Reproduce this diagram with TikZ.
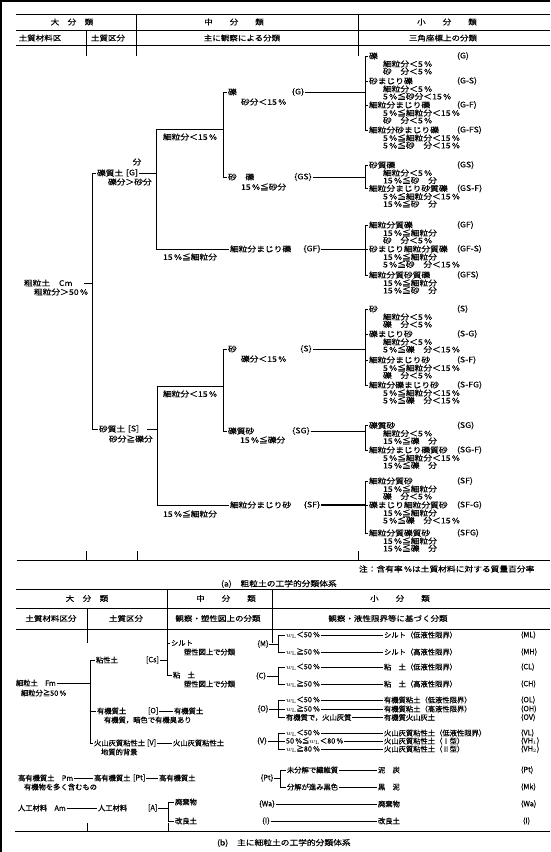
\documentclass[tikz,border=0pt]{standalone}
\usepackage{fontspec}
\newfontfamily\jpa[FakeStretch=1.15,FakeBold=0.3]{Noto Sans CJK JP}
\newfontfamily\jpb[FakeBold=0.3]{Noto Sans CJK JP}
\tikzset{
 ta/.style={font=\jpa\fontsize{7.6}{8}\selectfont, inner sep=0.8pt, anchor=west},
 tac/.style={ta, anchor=center},
 hd/.style={font=\jpa\fontsize{7.4}{8}\selectfont, inner sep=0.8pt, anchor=center},
 tb/.style={font=\jpb\fontsize{7.3}{8}\selectfont, inner sep=0.8pt, anchor=west},
 tbc/.style={tb, anchor=center},
 ln/.style={line width=0.6pt},
 rul/.style={line width=1pt},
}
\newcommand\entA[6]{%
 \node[ta] (#1t) at (368,#2) {#3};
 \node[ta] (#1k) at (456,#2) {#4};
 \node[ta] (#1a) at (382,#2+8) {#5};
 \node[ta] (#1b) at (382,#2+15.5) {#6};
 \coordinate (#1s) at (365,#2);
 \draw[ln] (#1s) -- (#1t.west);
}
\newcommand\rowB[6]{% id y cond result code bracketx
 \coordinate (#1s) at (#6,#2);
 \node[tb] (#1c) at (#6+7,#2) {#3};
 \draw[ln] (#1s) -- (#1c.west);
 \node[tb] (#1r) at (383,#2) {#4};
 \draw[ln] (#1c.east) -- (#1r.west);
 \node[tb] (#1k) at (520,#2) {#5};
}
\begin{document}
\begin{tikzpicture}[x=1pt,y=-1pt]
\useasboundingbox (0,0) rectangle (550,852);
\fill[white] (0,0) rectangle (550,852);
\draw[line width=2pt] (1,852) -- (1,1) -- (550,1);

% ================= (a) header =================
\draw[rul] (16,14.5) -- (550,14.5);
\draw[rul] (16,30) -- (550,30);
\draw[rul] (16,45.5) -- (550,45.5);
\draw[ln] (86,30) -- (86,56);
\draw[ln] (136,14.5) -- (136,56);
\draw[ln] (358,14.5) -- (358,56);
\node[hd] (ha1) at (72,22) {大　分　類};
\node[hd] (ha2) at (234,22) {中　　分　　類};
\node[hd] (ha3) at (447,22) {小　　分　　類};
\node[hd] (hb1) at (40,38) {土質材料区};
\node[hd] (hb2) at (108,38) {土質区分};
\node[hd] (hb3) at (242,38) {主に観察による分類};
\node[hd] (hb4) at (443,38) {三角座標上の分類};

% ================= (a) tree =================
\node[ta] (Cm) at (23,283) {粗粒土　Cm};
\node[ta] (Cmc) at (33,292) {粗粒分＞50\,\%};
\coordinate (Cmd) at (84,283);
\coordinate (Cmj) at (92,283);
\draw[ln] (Cmd) -- (Cmj);
\coordinate (V1t) at (92,173);
\coordinate (V1b) at (92,429);
\draw[ln] (V1t) -- (V1b);

% gravel soil
\node[ta] (Gq) at (96,173) {礫質土};
\node[ta] (Gb) at (125,173) {[G]};
\draw[ln] (V1t) -- (Gq.west);
\node[tac] (Gfen) at (137,162) {分};
\node[ta] (Gc) at (107,182) {礫分＞砂分};
\coordinate (gv1) at (156,129);
\coordinate (gv2) at (156,249);
\coordinate (gvm) at (156,173);
\draw[ln] (gv1) -- (gv2);
\draw[ln] (Gb.east) -- (gvm);
\coordinate (gw1) at (223,92);
\coordinate (gw2) at (223,177);
\coordinate (gwm) at (223,129);
\draw[ln] (gv1) -- (gwm);
\draw[ln] (gw1) -- (gw2);
\node[ta] (Gf1) at (162,137) {細粒分＜15\,\%};
\node[ta] (Gr) at (227,92) {礫};
\draw[ln] (gw1) -- (Gr.west);
\node[ta] (Grc) at (240,102) {砂分＜15\,\%};
\node[tac] (GrK) at (298,92) {\{G\}};
\node[ta] (GSr) at (227,177) {砂　礫};
\draw[ln] (gw2) -- (GSr.west);
\node[ta] (GSc) at (240,187) {15\,\%≦砂分};
\node[tac] (GSK) at (303,177) {\{GS\}};
\node[ta] (GFr) at (229,249) {細粒分まじり礫};
\draw[ln] (gv2) -- (GFr.west);
\node[ta] (GFc) at (162,257) {15\,\%≦細粒分};
\node[tac] (GFK) at (312,249) {\{GF\}};

% sandy soil
\node[ta] (Sq) at (98,429) {砂質土};
\node[ta] (Sb) at (127,429) {[S]};
\draw[ln] (V1b) -- (Sq.west);
\node[ta] (Sc) at (108,439) {砂分≧礫分};
\coordinate (sv1) at (157,386);
\coordinate (sv2) at (157,505);
\coordinate (svm) at (157,429);
\coordinate (Sd) at (147,429);
\draw[ln] (sv1) -- (sv2);
\draw[ln] (Sd) -- (svm);
\coordinate (sw1) at (223,349);
\coordinate (sw2) at (223,431);
\coordinate (swm) at (223,386);
\draw[ln] (sv1) -- (swm);
\draw[ln] (sw1) -- (sw2);
\node[ta] (Sf1) at (162,394) {細粒分＜15\,\%};
\node[ta] (Ssr) at (227,349) {砂};
\draw[ln] (sw1) -- (Ssr.west);
\node[ta] (Ssc) at (240,359) {礫分＜15\,\%};
\node[tac] (SsK) at (306,349) {\{S\}};
\node[ta] (SGr) at (227,431) {礫質砂};
\draw[ln] (sw2) -- (SGr.west);
\node[ta] (SGc) at (239,440) {15\,\%≦礫分};
\node[tac] (SGK) at (301,431) {\{SG\}};
\node[ta] (SFr) at (229,505) {細粒分まじり砂};
\draw[ln] (sv2) -- (SFr.west);
\node[ta] (SFc) at (162,514) {15\,\%≦細粒分};
\node[tac] (SFK) at (312,505) {\{SF\}};

% ---- small classification (a)
\entA{g1}{56}{礫}{(G)}{細粒分＜5\,\%}{砂　分＜5\,\%}
\entA{g2}{81}{砂まじり礫}{(G-S)}{細粒分＜5\,\%}{5\,\%≦砂分＜15\,\%}
\entA{g3}{105}{細粒分まじり礫}{(G-F)}{5\,\%≦細粒分＜15\,\%}{砂　分＜5\,\%}
\entA{g4}{130}{細粒分砂まじり礫}{(G-FS)}{5\,\%≦細粒分＜15\,\%}{5\,\%≦砂　分＜15\,\%}
\draw[ln] (g1s) -- (g4s);
\entA{gsa}{165}{砂質礫}{(GS)}{細粒分＜5\,\%}{15\,\%≦砂　分}
\entA{gsb}{188.5}{細粒分まじり砂質礫}{(GS-F)}{5\,\%≦細粒分＜15\,\%}{15\,\%≦砂　分}
\draw[ln] (gsas) -- (gsbs);
\entA{gfa}{225}{細粒分質礫}{(GF)}{15\,\%≦細粒分}{砂　分＜5\,\%}
\entA{gfb}{249}{砂まじり細粒分質礫}{(GF-S)}{15\,\%≦細粒分}{5\,\%≦砂　分＜15\,\%}
\entA{gfc}{275}{細粒分質砂質礫}{(GFS)}{15\,\%≦細粒分}{15\,\%≦砂　分}
\draw[ln] (gfas) -- (gfcs);
\entA{s1}{309}{砂}{(S)}{細粒分＜5\,\%}{礫　分＜5\,\%}
\entA{s2}{334}{礫まじり砂}{(S-G)}{細粒分＜5\,\%}{5\,\%≦礫　分＜15\,\%}
\entA{s3}{360}{細粒分まじり砂}{(S-F)}{5\,\%≦細粒分＜15\,\%}{礫　分＜5\,\%}
\entA{s4}{385}{細粒分礫まじり砂}{(S-FG)}{5\,\%≦細粒分＜15\,\%}{5\,\%≦礫　分＜15\,\%}
\draw[ln] (s1s) -- (s4s);
\entA{sga}{425.5}{礫質砂}{(SG)}{細粒分＜5\,\%}{15\,\%≦礫　分}
\entA{sgb}{450}{細粒分まじり礫質砂}{(SG-F)}{5\,\%≦細粒分＜15\,\%}{15\,\%≦礫　分}
\draw[ln] (sgas) -- (sgbs);
\entA{sfa}{481}{細粒分質砂}{(SF)}{15\,\%≦細粒分}{礫　分＜5\,\%}
\entA{sfb}{505}{礫まじり細粒分質砂}{(SF-G)}{15\,\%≦細粒分}{5\,\%≦礫　分＜15\,\%}
\entA{sfc}{533}{細粒分質礫質砂}{(SFG)}{15\,\%≦細粒分}{15\,\%≦礫　分}
\draw[ln] (sfas) -- (sfcs);

% middle to small connectors
\coordinate (bG) at (365,92);
\coordinate (bGS) at (365,177);
\coordinate (bS) at (365,349);
\coordinate (bSG) at (365,431);
\draw[ln] (GrK.east) -- (bG);
\draw[ln] (GSK.east) -- (bGS);
\draw[ln] (GFK.east) -- (gfbs);
\draw[ln] (SsK.east) -- (bS);
\draw[ln] (SGK.east) -- (bSG);
\draw[line width=1.1pt] (SFK.east) -- (sfbs);

% bottom of (a)
\draw[rul] (17,560.5) -- (550,560.5);
\draw[ln] (86,551) -- (86,560.5);
\draw[ln] (137,551) -- (137,560.5);
\draw[ln] (358,551) -- (358,560.5);
\node[ta] (note) at (358,569) {注：含有率\,\%は土質材料に対する質量百分率};
\node[ta] (capa) at (220,584) {(a)　粗粒土の工学的分類体系};

% ================= (b) header =================
\draw[rul] (16,589) -- (550,589);
\draw[rul] (16,608) -- (550,608);
\draw[rul] (16,629) -- (550,629);
\draw[ln] (87,608) -- (87,643);
\draw[ln] (167,589) -- (167,643);
\draw[ln] (272,589) -- (272,643);
\node[hd] (hc1) at (87,598.5) {大　分　類};
\node[hd] (hc2) at (226,598.5) {中　　分　　類};
\node[hd] (hc3) at (400,598.5) {小　　分　　類};
\node[hd] (hd1) at (51,618.5) {土質材料区分};
\node[hd] (hd2) at (126,618.5) {土質区分};
\node[hd] (hd3) at (218,618.5) {観察・塑性図上の分類};
\node[hd] (hd4) at (388,618.5) {観察・液性限界等に基づく分類};

% ================= (b) body =================
\node[tb] (Fm) at (15,683) {細粒土　Fm};
\node[tb] (Fmc) at (20,693) {細粒分≧50\,\%};
\coordinate (bv1) at (90,660);
\coordinate (bv2) at (90,743);
\coordinate (bvm) at (90,683);
\coordinate (bvO) at (90,711);
\draw[ln] (Fm.east) -- (bvm);
\draw[ln] (bv1) -- (bv2);
\node[tb] (Cs) at (95,660) {粘性土};
\draw[ln] (bv1) -- (Cs.west);
\node[tb] (Csb) at (145,660) {[Cs]};
\coordinate (cb1) at (167,643);
\coordinate (cb2) at (167,675);
\coordinate (cbm) at (167,660);
\draw[ln] (cb1) -- (cb2);
\draw[ln] (Csb.east) -- (cbm);
\node[tb] (Mt) at (170,643) {シルト};
\draw[ln] (cb1) -- (Mt.west);
\node[tb] (Mtc) at (183,652) {塑性図上で分類};
\node[tb] (Ct) at (172,675) {粘　土};
\draw[ln] (cb2) -- (Ct.west);
\node[tb] (Ctc) at (183,684) {塑性図上で分類};
\node[tb] (Oq) at (96,711) {有機質土};
\draw[ln] (bvO) -- (Oq.west);
\node[tb] (Ob) at (147,711) {[O]};
\node[tb] (Om) at (173,711) {有機質土};
\draw[ln] (Ob.east) -- (Om.west);
\node[tb] (Omc) at (103,720) {有機質，暗色で有機臭あり};
\node[tb] (Vq) at (93,743) {火山灰質粘性土};
\draw[ln] (bv2) -- (Vq.west);
\node[tb] (Vb) at (146,743) {[V]};
\node[tb] (Vm) at (172,743) {火山灰質粘性土};
\draw[ln] (Vb.east) -- (Vm.west);
\node[tb] (Vmc) at (100,752) {地質的背景};
\node[tb] (Pm) at (17,778) {高有機質土　Pm};
\node[tb] (Pq) at (93,778) {高有機質土};
\draw[ln] (Pm.east) -- (Pq.west);
\node[tb] (Pb) at (132,778) {[Pt]};
\node[tb] (Pmm) at (158,778) {高有機質土};
\draw[ln] (Pb.east) -- (Pmm.west);
\node[tb] (Pmc) at (23,787) {有機物を多く含むもの};
\node[tb] (Am) at (17,808) {人工材料　Am};
\node[tb] (Aq) at (97,808) {人工材料};
\draw[ln] (Am.east) -- (Aq.west);
\node[tb] (Ab) at (147,808) {[A]};
\coordinate (ab1) at (168,802);
\coordinate (ab2) at (168,821);
\coordinate (abm) at (168,808);
\draw[ln] (Ab.east) -- (abm);
\draw[ln] (ab1) -- (ab2);
\node[tb] (Wam) at (174,802) {廃棄物};
\draw[ln] (ab1) -- (Wam.west);
\node[tb] (Im) at (174,821) {改良土};
\draw[ln] (ab2) -- (Im.west);

% middle-column codes
\node[tbc] (kM) at (263,644) {\{M\}};
\node[tbc] (kC) at (261,676) {\{C\}};
\node[tbc] (kO) at (263,709) {\{O\}};
\node[tbc] (kV) at (262,741) {\{V\}};
\node[tbc] (kPt) at (267,778) {\{Pt\}};
\node[tbc] (kWa) at (267,804) {\{Wa\}};
\node[tbc] (kI) at (266,821) {\{I\}};

% small classification (b)
\rowB{ml}{635}{$w_{\mathrm L}$＜50\,\%}{シルト（低液性限界）}{(ML)}{278}
\rowB{mh}{652}{$w_{\mathrm L}$≧50\,\%}{シルト（高液性限界）}{(MH)}{278}
\rowB{cl}{667}{$w_{\mathrm L}$＜50\,\%}{粘　土（低液性限界）}{(CL)}{278}
\rowB{ch}{684}{$w_{\mathrm L}$≧50\,\%}{粘　土（高液性限界）}{(CH)}{278}
\rowB{ol}{700}{$w_{\mathrm L}$＜50\,\%}{有機質粘土（低液性限界）}{(OL)}{278}
\rowB{oh}{709}{$w_{\mathrm L}$≧50\,\%}{有機質粘土（高液性限界）}{(OH)}{278}
\rowB{ov}{717.5}{有機質で，火山灰質}{有機質火山灰土}{(OV)}{278}
\rowB{vl}{733}{$w_{\mathrm L}$＜50\,\%}{火山灰質粘性土（低液性限界）}{(VL)}{278}
\rowB{vh}{741}{50\,\%≦$w_{\mathrm L}$＜80\,\%}{火山灰質粘性土（Ⅰ型）}{(VH$_1$)}{278}
\rowB{vk}{749}{$w_{\mathrm L}$≧80\,\%}{火山灰質粘性土（Ⅱ型）}{(VH$_2$)}{278}
\node[tb] (ptc) at (286,770) {未分解で繊維質};
\node[tb] (ptr) at (377,770) {泥　炭};
\node[tb] (ptk) at (520,770) {(Pt)};
\node[tb] (mkc) at (286,787) {分解が進み黒色};
\node[tb] (mkr) at (377,787) {黒　泥};
\node[tb] (mkk) at (520,787) {(Mk)};
\node[tb] (war) at (377,804) {廃棄物};
\node[tb] (wak) at (520,804) {(Wa)};
\node[tb] (ir) at (377,821) {改良土};
\node[tb] (ik) at (522,821) {(I)};
\coordinate (ptb1) at (280,770);
\coordinate (ptb2) at (280,787);
\coordinate (ptbm) at (280,778);
\draw[ln] (ptb1) -- (ptb2);
\draw[ln] (ptb1) -- (ptc.west);
\draw[ln] (ptb2) -- (mkc.west);
\draw[ln] (ptc.east) -- (ptr.west);
\draw[ln] (mkc.east) -- (mkr.west);
\draw[ln] (kPt.east) -- (ptbm);
\draw[ln] (kWa.east) -- (war.west);
\draw[ln] (kI.east) -- (ir.west);

% brackets
\coordinate (kMb) at (278,644);
\coordinate (kCb) at (278,676);
\draw[ln] (mls) -- (mhs);
\draw[ln] (kM.east) -- (kMb);
\draw[ln] (cls) -- (chs);
\draw[ln] (kC.east) -- (kCb);
\draw[ln] (ols) -- (ovs);
\draw[ln] (kO.east) -- (ohs);
\draw[ln] (vls) -- (vks);
\draw[ln] (kV.east) -- (vhs);

% bottom of (b)
\draw[rul] (15,831) -- (550,831);
\draw[ln] (87,823) -- (87,831);
\draw[ln] (168,823) -- (168,831);
\node[ta] (capb) at (216,843) {(b)　主に細粒土の工学的分類体系};
\end{tikzpicture}
\end{document}
